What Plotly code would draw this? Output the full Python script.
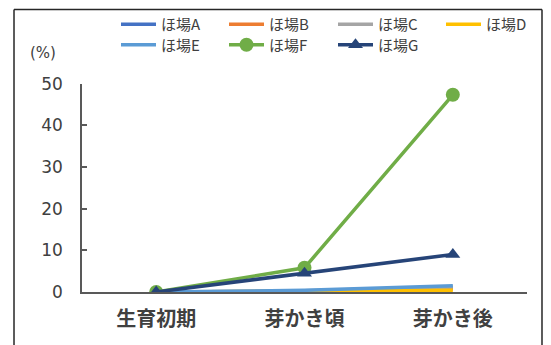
import plotly.graph_objects as go

categories = ["生育初期", "芽かき頃", "芽かき後"]
series_names = ["ほ場A", "ほ場B", "ほ場C", "ほ場D", "ほ場E", "ほ場F", "ほ場G"]
vals_A = [0, 0.2, 1.0]
vals_B = [0, 0.1, 0.7]
vals_C = [0, 0.3, 1.2]
vals_D = [0, 0.1, 0.4]
vals_E = [0, 0.4, 1.5]
vals_F = [0, 5.8, 47.3]
vals_G = [0, 4.5, 9.0]
y_ticks = [0, 10, 20, 30, 40, 50]

colors = ["#4472C4", "#ED7D31", "#A5A5A5", "#FFC000", "#5B9BD5", "#70AD47", "#264478"]
symbols = [None, None, None, None, None, "circle", "triangle-up"]
all_vals = [vals_A, vals_B, vals_C, vals_D, vals_E, vals_F, vals_G]

# legend entry positions (pixels in the 551x345 canvas): left x, center y
leg_x = [116, 224, 333, 441, 116, 224, 333]
leg_y = [24.5, 24.5, 24.5, 24.5, 45, 45, 45]

W, H = 551, 345
JP = "Noto Sans CJK JP"

fig = go.Figure()
legend_layout = {}
for i, (name, vals, col, sym) in enumerate(zip(series_names, all_vals, colors, symbols)):
    lg = "legend" if i == 0 else f"legend{i + 1}"
    if sym is None:
        fig.add_trace(go.Scatter(x=categories, y=vals, name=name, mode="lines", legend=lg,
                                 line=dict(color=col, width=3.5)))
    else:
        fig.add_trace(go.Scatter(x=categories, y=vals, name=name, mode="lines+markers", legend=lg,
                                 line=dict(color=col, width=3.5),
                                 marker=dict(symbol=sym, size=14 if sym == "circle" else 13, color=col)))
    legend_layout[lg] = dict(orientation="h", xref="container", yref="container",
                             x=leg_x[i] / W, y=1 - leg_y[i] / H,
                             xanchor="left", yanchor="middle", itemwidth=35,
                             font=dict(family=JP, size=15, color="#404040"),
                             bgcolor="rgba(0,0,0,0)")

fig.update_layout(
    width=W, height=H,
    margin=dict(l=82, r=24, t=82, b=53),
    paper_bgcolor="white", plot_bgcolor="white",
    showlegend=True,
    xaxis=dict(type="category", range=[-0.5, 2.5], showline=True, linecolor="#595959",
               linewidth=1.5, showgrid=False, zeroline=False, ticks="",
               ticklabelstandoff=8,
               tickfont=dict(family=JP, size=20, color="#404040", weight="bold")),
    yaxis=dict(range=[0, 50], tickvals=y_ticks, showline=True, linecolor="#595959",
               linewidth=1.5, showgrid=False, zeroline=False, ticks="inside", ticklen=5,
               tickcolor="#595959", tickwidth=1.5, ticklabelstandoff=14,
               tickfont=dict(family="DejaVu Sans", size=17, color="#404040")),
    annotations=[dict(text="(%)", xref="paper", yref="paper", x=-0.122, y=1.147,
                      xanchor="left", yanchor="middle", showarrow=False,
                      font=dict(family="DejaVu Sans", size=15, color="#404040"))],
    shapes=[
        dict(type="line", xref="paper", yref="paper", x0=-0.1528, x1=-0.1528, y0=-0.3, y1=1.3548,
             line=dict(color="#262626", width=1.5)),
        dict(type="line", xref="paper", yref="paper", x0=1.0337, x1=1.0337, y0=-0.3, y1=1.3548,
             line=dict(color="#262626", width=1.5)),
        dict(type="line", xref="paper", yref="paper", x0=-0.1528, x1=1.0337, y0=1.3548, y1=1.3548,
             line=dict(color="#262626", width=1.5)),
    ],
    **legend_layout,
)

fig.write_html("out.html")
